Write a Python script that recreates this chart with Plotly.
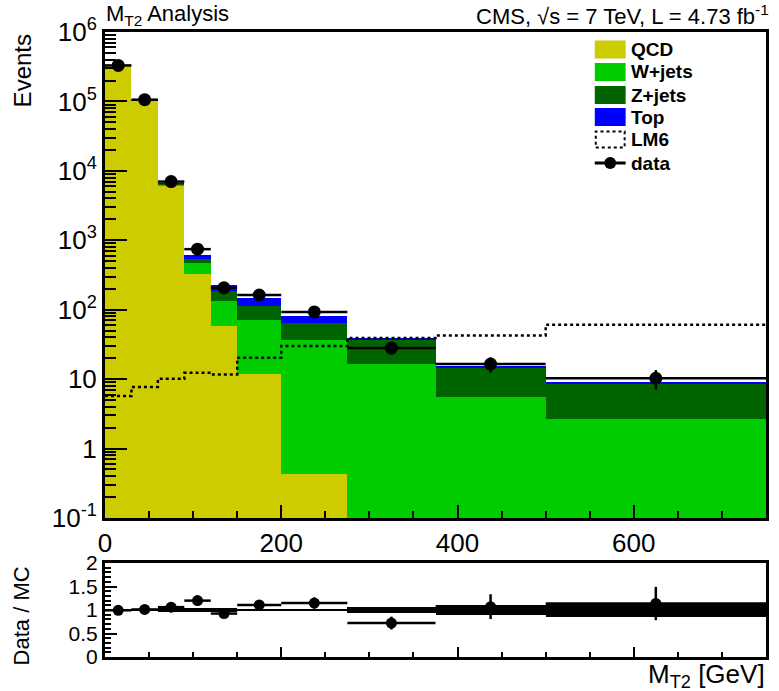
import numpy as np
import plotly.graph_objects as go

# ---- histogram contents (MT2 bins, GeV) ----
bin_edges = [0, 30, 60, 90, 120, 150, 200, 275, 375, 500, 750]
qcd = [3.3e5, 1.03e5, 6.2e3, 330, 58, 12, 0.43, 0, 0, 0]
wjets = [1200, 900, 220, 145, 74, 60, 35.6, 16.3, 5.5, 2.7]
zjets = [400, 400, 90, 68, 52, 40, 29, 21, 9.3, 6.0]
top = [600, 500, 90, 78, 40, 35, 16, 1.5, 0.6, 0.35]
lm6 = [5.7, 7.7, 10.1, 12.4, 11.7, 20.3, 29.9, 39, 42.6, 60.8]
data = [3.3e5, 1.06e5, 7.0e3, 745, 207, 163, 93, 28, 16.5, 10.3]
mc_rel_unc = [0.02, 0.02, 0.04, 0.04, 0.04, 0.03, 0.03, 0.06, 0.10, 0.15]

y_tickvals = [0.1, 1, 10, 100, 1e3, 1e4, 1e5, 1e6]
y_ticktext = ["10<sup>-1</sup>", "1", "10", "10<sup>2</sup>", "10<sup>3</sup>",
              "10<sup>4</sup>", "10<sup>5</sup>", "10<sup>6</sup>"]
x_tickvals = [0, 200, 400, 600]
r_tickvals = [0, 0.5, 1, 1.5, 2]
r_ticktext = ["0", "0.5", "1", "1.5", "2"]

# ---- derived quantities ----
edges = np.array(bin_edges, dtype=float)
centers = 0.5 * (edges[1:] + edges[:-1])
widths = edges[1:] - edges[:-1]
d = np.array(data)
mc_total = np.array(qcd) + np.array(wjets) + np.array(zjets) + np.array(top)
d_err = np.sqrt(d)
ratio = d / mc_total
ratio_err = d_err / mc_total
band = np.array(mc_rel_unc)

FONT = "Liberation Sans, Arial, Helvetica, sans-serif"
C_QCD, C_W, C_Z, C_TOP = "#CCCC00", "#00CC00", "#006400", "#0000FF"

fig = go.Figure()

for vals, col, name in [(qcd, C_QCD, "QCD"), (wjets, C_W, "W+jets"),
                        (zjets, C_Z, "Z+jets"), (top, C_TOP, "Top")]:
    fig.add_trace(go.Bar(x=centers, y=vals, width=widths, name=name,
                         marker=dict(color=col, line=dict(width=0)),
                         showlegend=False, xaxis="x", yaxis="y"))

# LM6 signal as a dotted step outline
fig.add_trace(go.Scatter(x=list(edges), y=list(lm6) + [lm6[-1]], mode="lines",
                         line=dict(color="black", width=2.5, dash="dot", shape="hv"),
                         showlegend=False, xaxis="x", yaxis="y"))

# data points
fig.add_trace(go.Scatter(x=centers, y=d, mode="markers",
                         marker=dict(color="black", size=13),
                         error_x=dict(type="data", array=widths / 2, color="black", thickness=2.5, width=0),
                         error_y=dict(type="data", array=d_err, color="black", thickness=2.5, width=0),
                         showlegend=False, xaxis="x", yaxis="y"))

# ratio panel: MC uncertainty band and data/MC
fig.add_trace(go.Bar(x=centers, y=2 * band, base=1 - band, width=widths,
                     marker=dict(color="black", line=dict(width=0)),
                     showlegend=False, xaxis="x2", yaxis="y2"))
fig.add_trace(go.Scatter(x=centers, y=ratio, mode="markers",
                         marker=dict(color="black", size=11),
                         error_x=dict(type="data", array=widths / 2, color="black", thickness=2.5, width=0),
                         error_y=dict(type="data", array=ratio_err, color="black", thickness=2.5, width=0),
                         showlegend=False, xaxis="x2", yaxis="y2"))

# ---- layout in pixel terms ----
W, H = 779, 691
L, R, T, B = 105, 10, 32, 34
PW, PH = W - L - R, H - T - B


def px(x):
    return (x - L) / PW


def py(y):
    return (H - B - y) / PH


minor_log = [m * 10 ** e for e in range(-1, 6) for m in range(2, 10)]

axis_common = dict(showline=True, linewidth=3, linecolor="black", mirror=True,
                   showgrid=False, zeroline=False, ticks="inside", tickcolor="black",
                   tickwidth=2)

fig.update_layout(
    width=W, height=H, margin=dict(l=L, r=R, t=T, b=B),
    paper_bgcolor="white", plot_bgcolor="white",
    barmode="stack", bargap=0, showlegend=False,
    font=dict(family=FONT, color="black"),
    xaxis=dict(domain=[0, 1], anchor="y", range=[0, 750], tickmode="array",
               tickvals=x_tickvals, ticklen=13,
               tickfont=dict(family=FONT, size=26, color="black"),
               minor=dict(ticks="inside", dtick=50, tick0=0, ticklen=7, tickwidth=2, tickcolor="black"),
               **axis_common),
    yaxis=dict(domain=[py(518), 1], anchor="x", type="log", range=[-1, 6],
               tickmode="array", tickvals=y_tickvals, ticktext=y_ticktext, ticklen=22,
               tickfont=dict(family=FONT, size=26, color="black"),
               minor=dict(ticks="inside", tickmode="array", tickvals=minor_log, ticklen=11,
                          tickwidth=2, tickcolor="black"),
               **axis_common),
    xaxis2=dict(domain=[0, 1], anchor="y2", range=[0, 750], tickmode="array",
                tickvals=x_tickvals, ticklen=10, showticklabels=False,
                minor=dict(ticks="inside", dtick=50, tick0=0, ticklen=5, tickwidth=2, tickcolor="black"),
                **axis_common),
    yaxis2=dict(domain=[0, py(563)], anchor="x2", range=[0, 2], tickmode="array",
                tickvals=r_tickvals, ticktext=r_ticktext, ticklen=12,
                tickfont=dict(family=FONT, size=21, color="black"),
                minor=dict(ticks="inside", dtick=0.1, tick0=0, ticklen=6, tickwidth=2, tickcolor="black"),
                **axis_common),
)

ann = []
ann.append(dict(text="M<sub>T2</sub> Analysis", x=px(104), y=py(15), xref="paper", yref="paper",
                xanchor="left", yanchor="middle", showarrow=False,
                font=dict(family=FONT, size=22, color="black")))
ann.append(dict(text="CMS, \u221as = 7 TeV, L = 4.73 fb<sup>-1</sup>", x=px(774), y=py(15),
                xref="paper", yref="paper", xanchor="right", yanchor="middle", showarrow=False,
                font=dict(family=FONT, size=22, color="black")))
ann.append(dict(text="Events", x=px(22), y=py(71), xref="paper", yref="paper", textangle=-90,
                xanchor="center", yanchor="middle", showarrow=False,
                font=dict(family=FONT, size=24, color="black")))
ann.append(dict(text="Data / MC", x=px(21), y=py(616), xref="paper", yref="paper", textangle=-90,
                xanchor="center", yanchor="middle", showarrow=False,
                font=dict(family=FONT, size=22, color="black")))
ann.append(dict(text="M<sub>T2</sub> [GeV]", x=px(770), y=py(675), xref="paper", yref="paper",
                xanchor="right", yanchor="middle", showarrow=False,
                font=dict(family=FONT, size=26, color="black")))

# ---- legend box ----
shapes = []
legend_rows = [("QCD", C_QCD, 49.5), ("W+jets", C_W, 72), ("Z+jets", C_Z, 95), ("Top", C_TOP, 117)]
sx0, sx1 = 597, 628
for label, col, yc in legend_rows:
    shapes.append(dict(type="rect", xref="paper", yref="paper", x0=px(sx0), x1=px(sx1),
                       y0=py(yc + 9), y1=py(yc - 9), fillcolor=col, line=dict(width=0)))
    ann.append(dict(text="<b>%s</b>" % label, x=px(631), y=py(yc), xref="paper", yref="paper",
                    xanchor="left", yanchor="middle", showarrow=False,
                    font=dict(family=FONT, size=19, color="black")))
yc = 139.5
shapes.append(dict(type="rect", xref="paper", yref="paper", x0=px(sx0 + 1), x1=px(sx1 - 1),
                   y0=py(yc + 8), y1=py(yc - 8), fillcolor="white",
                   line=dict(color="black", width=2, dash="dot")))
ann.append(dict(text="<b>LM6</b>", x=px(631), y=py(yc), xref="paper", yref="paper",
                xanchor="left", yanchor="middle", showarrow=False,
                font=dict(family=FONT, size=19, color="black")))
yc = 163
shapes.append(dict(type="line", xref="paper", yref="paper", x0=px(sx0), x1=px(sx1),
                   y0=py(yc), y1=py(yc), line=dict(color="black", width=3)))
shapes.append(dict(type="circle", xref="paper", yref="paper", x0=px(606.5), x1=px(618.5),
                   y0=py(yc + 6), y1=py(yc - 6), fillcolor="black", line=dict(width=0)))
ann.append(dict(text="<b>data</b>", x=px(631), y=py(yc), xref="paper", yref="paper",
                xanchor="left", yanchor="middle", showarrow=False,
                font=dict(family=FONT, size=19, color="black")))

fig.update_layout(annotations=ann, shapes=shapes)

fig.write_html("out.html")
